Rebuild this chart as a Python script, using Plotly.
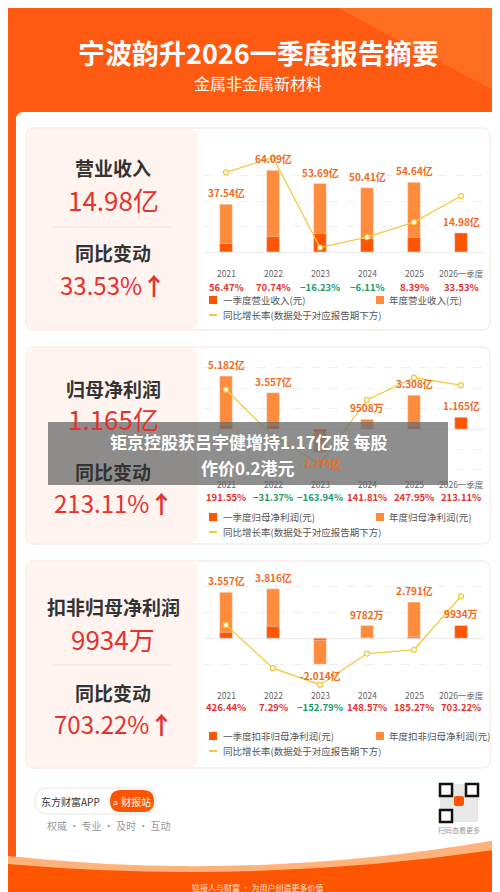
import plotly.graph_objects as go

W, H = 500, 892
FONT = "Noto Sans CJK SC"

years = ["2021", "2022", "2023", "2024", "2025", "2026一季度"]
pos = list(range(len(years)))

# 营业收入 (亿元)
rev_year = [37.54, 64.09, 53.69, 50.41, 54.64, None]
rev_q1 = [6.7, 12.1, 14.5, 10.6, 11.4, 14.98]
rev_yoy = [56.47, 70.74, -16.23, -6.11, 8.39, 33.53]
rev_lbl = ["37.54亿", "64.09亿", "53.69亿", "50.41亿", "54.64亿", "14.98亿"]

# 归母净利润 (亿元)
np_year = [5.182, 3.557, -2.274, 0.9508, 3.308, None]
np_q1 = [0.4, 0.35, -0.3, 0.15, 0.3, 1.165]
np_yoy = [191.55, -31.37, -163.94, 141.81, 247.95, 213.11]
np_lbl = ["5.182亿", "3.557亿", "-2.274亿", "9508万", "3.308亿", "1.165亿"]

# 扣非归母净利润 (亿元)
kf_year = [3.557, 3.816, -2.014, 0.9782, 2.791, None]
kf_q1 = [0.46, 0.93, -0.15, 0.02, 0.1, 0.9934]
kf_yoy = [426.44, 7.29, -152.79, 148.57, 185.27, 703.22]
kf_lbl = ["3.557亿", "3.816亿", "-2.014亿", "9782万", "2.791亿", "9934万"]

ORANGE = "#ff8b3d"
DARK = "#ff5500"
YELLOW = "#f5c842"
RED = "#e5322d"
GREEN = "#1c9b6e"


def px(v):
    return v / W


def py(v):
    return 1 - v / H


def rrect(x0, y0, x1, y1, r, fill, line="rgba(0,0,0,0)", lw=0, layer="below"):
    a, b, c, d = px(x0), py(y0), px(x1), py(y1)
    rx, ry = r / W, r / H
    path = (f"M{a+rx},{b} L{c-rx},{b} Q{c},{b} {c},{b-ry} L{c},{d+ry} Q{c},{d} {c-rx},{d} "
            f"L{a+rx},{d} Q{a},{d} {a},{d+ry} L{a},{b-ry} Q{a},{b} {a+rx},{b} Z")
    return dict(type="path", path=path, xref="paper", yref="paper", fillcolor=fill,
                line=dict(color=line, width=lw), layer=layer)


def txt(x, y, s, size, color, bold=False, xanchor="center"):
    return dict(x=px(x), y=py(y), xref="paper", yref="paper", text=f"<b>{s}</b>" if bold else s,
                showarrow=False, font=dict(size=size, color=color, family=FONT),
                xanchor=xanchor, yanchor="middle")


def ax(letter, n):
    return letter if n == 1 else f"{letter}{n}"


fig = go.Figure()
shapes = []
annos = []

# background, header
shapes.append(dict(type="rect", xref="paper", yref="paper", x0=0, x1=1, y0=0, y1=1,
                   fillcolor="#ff5a12", line=dict(width=0), layer="below"))
shapes.append(dict(type="path", xref="paper", yref="paper", layer="below",
                   path=f"M{px(330)},1 L1,1 L1,{py(90)} Z", fillcolor="rgba(255,150,60,0.35)", line=dict(width=0)))
annos.append(txt(250, 45, "宁波韵升2026一季度报告摘要", 27, "white", True))
annos.append(txt(250, 75, "金属非金属新材料", 16, "white"))

# white card + bottom band
shapes.append(rrect(8, 104, 492, 880, 8, "white"))
shapes.append(dict(type="path", xref="paper", yref="paper", layer="below",
                   path=f"M0,{py(848)} Q{px(250)},{py(875)} 1,{py(830)} L1,0 L0,0 Z",
                   fillcolor="#ffb27a", line=dict(width=0)))
shapes.append(dict(type="path", xref="paper", yref="paper", layer="below",
                   path=f"M0,{py(856)} Q{px(250)},{py(878)} 1,{py(840)} L1,0 L0,0 Z",
                   fillcolor=DARK, line=dict(width=0)))
annos.append(txt(250, 879, "链接人与财富 · 为用户创造更多价值", 8, "#ffe2cc"))

panels = [
    dict(top=120, bot=322, ptop=142, pbot=244, leg=292, name="营业收入", val="14.98亿", pct="33.53%",
         year=rev_year, q1=rev_q1, yoy=rev_yoy, lbl=rev_lbl, yr=[0, 80], y2=[-20.5, 78], dt=20,
         l1="一季度营业收入(元)", l2="年度营业收入(元)", ty=(160, 192, 219, 245, 276)),
    dict(top=339, bot=536, ptop=353, pbot=463, leg=509, name="归母净利润", val="1.165亿", pct="213.11%",
         year=np_year, q1=np_q1, yoy=np_yoy, lbl=np_lbl, yr=[-4.1, 6.66], y2=[-197.6, 328], dt=2,
         l1="一季度归母净利润(元)", l2="年度归母净利润(元)", ty=(380, 410, 437, 463, 494)),
    dict(top=553, bot=760, ptop=572, pbot=682, leg=728, name="扣非归母净利润", val="9934万", pct="703.22%",
         year=kf_year, q1=kf_q1, yoy=kf_yoy, lbl=kf_lbl, yr=[-4, 4.5], y2=[-204, 861], dt=2,
         l1="一季度扣非归母净利润(元)", l2="年度扣非归母净利润(元)", ty=(598, 630, 657, 684, 715)),
]

layout = {}
for i, p in enumerate(panels, start=1):
    xa, ya, yb = ax("x", i), ax("y", i), ax("y", i + 3)
    # panel frame + left pink block
    shapes.append(rrect(18, p["top"], 482, p["bot"], 8, "white", "#f6e3da", 1))
    shapes.append(rrect(19, p["top"] + 1, 190, p["bot"] - 1, 8, "#fff4f0"))
    t = p["ty"]
    annos.append(txt(105, t[0], p["name"], 19, "#333333", True))
    annos.append(txt(105, t[1], p["val"], 26, RED))
    shapes.append(dict(type="line", xref="paper", yref="paper", x0=px(45), x1=px(163), y0=py(t[2]), y1=py(t[2]),
                       line=dict(color="#f3e1da", width=1), layer="below"))
    annos.append(txt(105, t[3], "同比变动", 19, "#333333", True))
    annos.append(txt(105, t[4], p["pct"] + "<b>↑</b>", 24, RED))

    fig.add_trace(go.Bar(x=pos, y=p["year"], marker_color=ORANGE, width=0.27, xaxis=xa, yaxis=ya,
                         hoverinfo="skip", showlegend=False))
    fig.add_trace(go.Bar(x=pos, y=p["q1"], marker_color=DARK, width=0.27, xaxis=xa, yaxis=ya,
                         hoverinfo="skip", showlegend=False))
    fig.add_trace(go.Scatter(x=pos, y=p["yoy"], mode="lines+markers", xaxis=xa, yaxis=yb,
                             line=dict(color=YELLOW, width=1.3),
                             marker=dict(size=5, color="white", line=dict(color=YELLOW, width=1.3)),
                             hoverinfo="skip", showlegend=False))

    dom_y = [py(p["pbot"]), py(p["ptop"])]
    layout[ax("xaxis", i)] = dict(domain=[px(194.5), px(476.5)], anchor=ya, type="linear",
                                  range=[-0.5, 5.5], showticklabels=False,
                                  showgrid=False, zeroline=False, fixedrange=True)
    layout[ax("yaxis", i)] = dict(domain=dom_y, anchor=xa, range=p["yr"], dtick=p["dt"], showticklabels=False,
                                  gridcolor="#efefef", griddash="dash", zeroline=True, zerolinecolor="#ececec",
                                  zerolinewidth=1)
    layout[ax("yaxis", i + 3)] = dict(overlaying=ya, anchor=xa, range=p["y2"], visible=False)

    for k, yv in enumerate(years):
        v = p["year"][k] if p["year"][k] is not None else p["q1"][k]
        neg = v < 0
        annos.append(dict(x=k, y=v, xref=xa, yref=ya, text=f"<b>{p['lbl'][k]}</b>", showarrow=False,
                          yanchor="top" if neg else "bottom", yshift=-2 if neg else 2,
                          font=dict(size=10, color="#f26a1b", family=FONT)))
        annos.append(dict(x=k, y=py(p["pbot"] + 13), xref=xa, yref="paper", text=yv, showarrow=False,
                          font=dict(size=8.5, color="#666666", family=FONT)))
        c = GREEN if p["yoy"][k] < 0 else RED
        s = f"{p['yoy'][k]:.2f}%".replace("-", "−")
        annos.append(dict(x=k, y=py(p["pbot"] + 26), xref=xa, yref="paper", text=f"<b>{s}</b>",
                          showarrow=False, font=dict(size=9.5, color=c, family=FONT)))

    # legend
    ly = p["leg"]
    shapes.append(dict(type="rect", xref="paper", yref="paper", x0=px(201), x1=px(209), y0=py(ly + 4),
                       y1=py(ly - 4), fillcolor=DARK, line=dict(width=0)))
    annos.append(txt(213, ly, p["l1"], 9.5, "#555555", xanchor="left"))
    shapes.append(dict(type="rect", xref="paper", yref="paper", x0=px(368), x1=px(376), y0=py(ly + 4),
                       y1=py(ly - 4), fillcolor=ORANGE, line=dict(width=0)))
    annos.append(txt(379, ly, p["l2"], 9.5, "#555555", xanchor="left"))
    shapes.append(dict(type="line", xref="paper", yref="paper", x0=px(201), x1=px(209), y0=py(ly + 15),
                       y1=py(ly + 15), line=dict(color=YELLOW, width=2)))
    annos.append(txt(213, ly + 15, "同比增长率(数据处于对应报告期下方)", 9.5, "#555555", xanchor="left"))

# footer
shapes.append(rrect(27, 780, 148, 806, 13, "white", "#e6e6e6", 1))
shapes.append(rrect(102, 782, 146, 804, 11, DARK))
annos.append(txt(62, 793, "东方财富APP", 10, "#333333"))
annos.append(txt(124, 793, "⌕ 财报站", 10, "white"))
annos.append(txt(37, 817, "权威 · 专业 · 及时 · 互动", 10, "#999999", xanchor="left"))
shapes.append(dict(type="rect", xref="paper", yref="paper", x0=px(432), x1=px(470), y0=py(814), y1=py(776),
                   fillcolor="#e8e8e8", line=dict(width=0)))
for qx, qy in [(432, 776), (458, 776), (432, 802)]:
    shapes.append(dict(type="rect", xref="paper", yref="paper", x0=px(qx), x1=px(qx + 12), y0=py(qy + 12),
                       y1=py(qy), fillcolor="white", line=dict(color="#111111", width=2.5)))
shapes.append(rrect(446, 788, 456, 798, 2, DARK, layer="above"))
annos.append(txt(451, 822, "扫码查看更多", 7, "#999999"))

# overlaid news banner
shapes.append(dict(type="rect", xref="paper", yref="paper", x0=px(40), x1=px(440), y0=py(477), y1=py(414),
                   fillcolor="rgba(110,110,110,0.78)", line=dict(width=0), layer="above"))
annos.append(txt(240, 434, "钜京控股获吕宇健增持1.17亿股 每股", 17, "white", True))
annos.append(txt(240, 459, "作价0.2港元", 17, "white", True))

fig.update_layout(width=W, height=H, margin=dict(l=0, r=0, t=0, b=0), barmode="overlay",
                  paper_bgcolor="#ff5a12", plot_bgcolor="rgba(0,0,0,0)", shapes=shapes, annotations=annos,
                  font=dict(family=FONT), **layout)
fig.write_html("out.html")
